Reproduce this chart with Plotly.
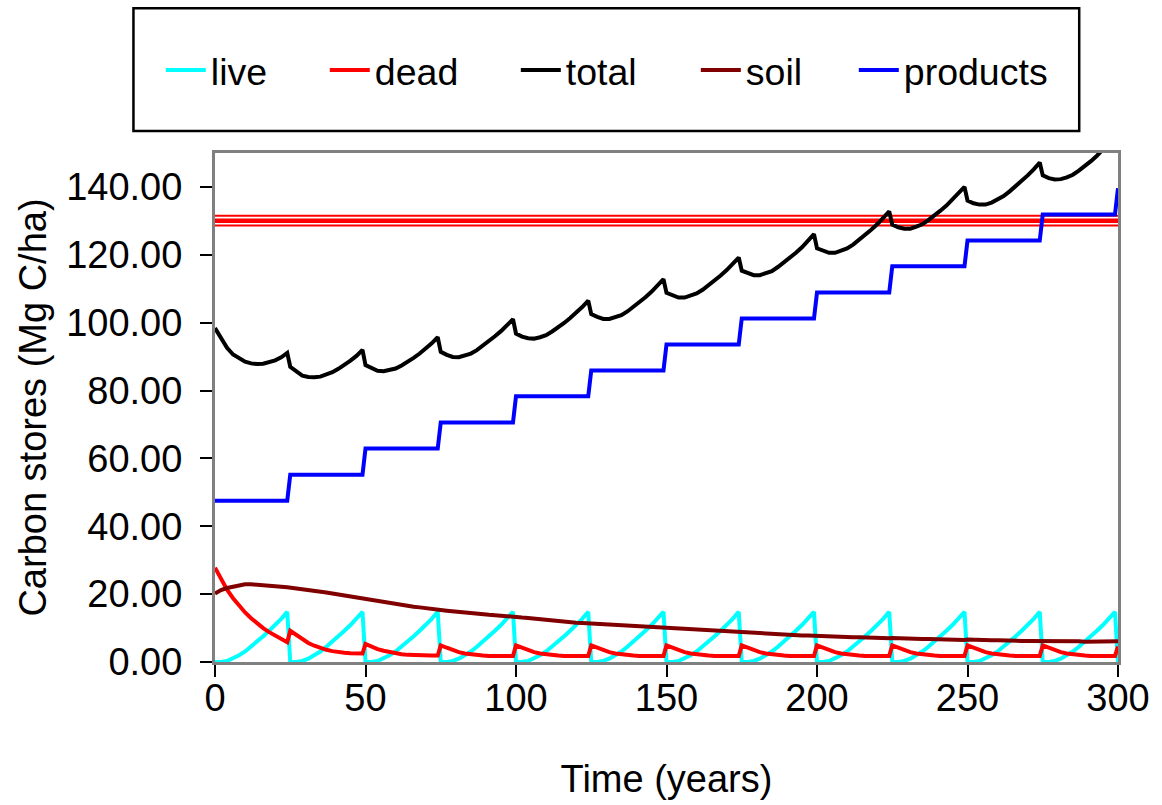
import plotly.graph_objects as go

# Harvest rotation of 25 years; values sampled every 2 years within each rotation
rotation = 25
offsets = list(range(0, rotation, 2))
years = [rotation * k + o for k in range(12) for o in offsets] + [300]

# Carbon stores (Mg C/ha), one row per rotation, then the value at year 300
live_rows = [
    [0.0, 0.0, 0.3, 1.0, 2.0, 3.1, 4.5, 6.0, 7.6, 9.2, 10.9, 12.7, 14.8],
    [0.0, 0.0, 0.3, 1.0, 2.0, 3.1, 4.5, 6.0, 7.6, 9.2, 10.9, 12.7, 14.8],
    [0.0, 0.0, 0.3, 1.0, 2.0, 3.1, 4.5, 6.0, 7.6, 9.2, 10.9, 12.7, 14.8],
    [0.0, 0.0, 0.3, 1.0, 2.0, 3.1, 4.5, 6.0, 7.6, 9.2, 10.9, 12.7, 14.8],
    [0.0, 0.0, 0.3, 1.0, 2.0, 3.1, 4.5, 6.0, 7.6, 9.2, 10.9, 12.7, 14.8],
    [0.0, 0.0, 0.3, 1.0, 2.0, 3.1, 4.5, 6.0, 7.6, 9.2, 10.9, 12.7, 14.8],
    [0.0, 0.0, 0.3, 1.0, 2.0, 3.1, 4.5, 6.0, 7.6, 9.2, 10.9, 12.7, 14.8],
    [0.0, 0.0, 0.3, 1.0, 2.0, 3.1, 4.5, 6.0, 7.6, 9.2, 10.9, 12.7, 14.8],
    [0.0, 0.0, 0.3, 1.0, 2.0, 3.1, 4.5, 6.0, 7.6, 9.2, 10.9, 12.7, 14.8],
    [0.0, 0.0, 0.3, 1.0, 2.0, 3.1, 4.5, 6.0, 7.6, 9.2, 10.9, 12.7, 14.8],
    [0.0, 0.0, 0.3, 1.0, 2.0, 3.1, 4.5, 6.0, 7.6, 9.2, 10.9, 12.7, 14.8],
    [0.0, 0.0, 0.3, 1.0, 2.0, 3.1, 4.5, 6.0, 7.6, 9.2, 10.9, 12.7, 14.8],
]
live_end = 0.0

dead_rows = [
    [27.8, 24.4, 21.3, 18.8, 16.6, 14.6, 12.9, 11.4, 10.0, 8.8, 7.7, 6.7, 5.8],
    [9.2, 7.9, 6.6, 5.6, 4.8, 4.1, 3.6, 3.2, 2.9, 2.7, 2.6, 2.5, 2.5],
    [5.3, 4.5, 3.8, 3.3, 2.9, 2.6, 2.3, 2.1, 2.0, 1.9, 1.9, 1.9, 1.9],
    [4.9, 4.2, 3.5, 2.9, 2.5, 2.2, 2.0, 1.9, 1.8, 1.8, 1.8, 1.8, 1.8],
    [4.9, 4.2, 3.5, 2.9, 2.5, 2.2, 2.0, 1.9, 1.8, 1.8, 1.8, 1.8, 1.8],
    [4.9, 4.2, 3.5, 2.9, 2.5, 2.2, 2.0, 1.9, 1.8, 1.8, 1.8, 1.8, 1.8],
    [4.9, 4.2, 3.5, 2.9, 2.5, 2.2, 2.0, 1.9, 1.8, 1.8, 1.8, 1.8, 1.8],
    [4.9, 4.2, 3.5, 2.9, 2.5, 2.2, 2.0, 1.9, 1.8, 1.8, 1.8, 1.8, 1.8],
    [4.9, 4.2, 3.5, 2.9, 2.5, 2.2, 2.0, 1.9, 1.8, 1.8, 1.8, 1.8, 1.8],
    [4.9, 4.2, 3.5, 2.9, 2.5, 2.2, 2.0, 1.9, 1.8, 1.8, 1.8, 1.8, 1.8],
    [4.9, 4.2, 3.5, 2.9, 2.5, 2.2, 2.0, 1.9, 1.8, 1.8, 1.8, 1.8, 1.8],
    [4.9, 4.2, 3.5, 2.9, 2.5, 2.2, 2.0, 1.9, 1.8, 1.8, 1.8, 1.8, 1.8],
]
dead_end = 4.6

soil_rows = [
    [20.2, 21.2, 21.8, 22.2, 22.7, 22.9, 22.9, 22.8, 22.7, 22.5, 22.4, 22.2, 22.0],
    [21.9, 21.7, 21.5, 21.3, 21.0, 20.8, 20.5, 20.2, 19.9, 19.6, 19.3, 19.0, 18.7],
    [18.5, 18.3, 18.0, 17.7, 17.4, 17.1, 16.9, 16.6, 16.3, 16.1, 15.8, 15.6, 15.4],
    [15.3, 15.1, 14.9, 14.7, 14.5, 14.4, 14.2, 14.1, 13.9, 13.8, 13.6, 13.5, 13.3],
    [13.3, 13.1, 13.0, 12.8, 12.6, 12.4, 12.3, 12.1, 11.9, 11.8, 11.6, 11.5, 11.4],
    [11.3, 11.2, 11.0, 10.9, 10.8, 10.6, 10.5, 10.4, 10.3, 10.2, 10.1, 10.0, 9.9],
    [9.9, 9.8, 9.6, 9.5, 9.4, 9.3, 9.2, 9.1, 9.0, 8.9, 8.8, 8.7, 8.6],
    [8.7, 8.6, 8.5, 8.4, 8.3, 8.2, 8.2, 8.1, 8.0, 7.9, 7.8, 7.8, 7.7],
    [7.8, 7.7, 7.6, 7.5, 7.5, 7.4, 7.3, 7.3, 7.2, 7.2, 7.1, 7.1, 7.0],
    [7.1, 7.0, 7.0, 6.9, 6.9, 6.8, 6.8, 6.7, 6.7, 6.6, 6.6, 6.5, 6.5],
    [6.6, 6.5, 6.5, 6.4, 6.4, 6.4, 6.3, 6.3, 6.3, 6.2, 6.2, 6.2, 6.1],
    [6.3, 6.2, 6.2, 6.2, 6.1, 6.1, 6.1, 6.0, 6.0, 6.0, 6.0, 6.0, 6.0],
]
soil_end = 6.1

# Wood products pool: one level per rotation (steps up at each harvest)
products_levels = [47.5, 55.2, 62.9, 70.6, 78.3, 85.9, 93.6, 101.2,
                   108.9, 116.6, 124.2, 131.9]
products_end = 139.6

total_rows = [
    [98.4, 95.2, 92.6, 90.6, 89.4, 88.5, 88.0, 87.8, 87.9, 88.3, 88.9, 89.8, 91.1],
    [87.0, 85.6, 84.4, 84.0, 83.9, 84.1, 84.6, 85.4, 86.4, 87.5, 88.8, 90.2, 92.0],
    [87.5, 86.5, 85.8, 85.7, 86.0, 86.5, 87.4, 88.4, 89.6, 90.9, 92.3, 93.9, 95.7],
    [91.4, 90.5, 89.9, 89.8, 90.2, 90.9, 91.9, 93.2, 94.5, 96.0, 97.5, 99.2, 101.0],
    [96.8, 95.9, 95.4, 95.3, 95.7, 96.3, 97.4, 98.6, 99.9, 101.4, 102.9, 104.6, 106.5],
    [102.5, 101.7, 101.1, 101.1, 101.6, 102.2, 103.3, 104.6, 106.0, 107.5, 109.1, 110.8, 112.8],
    [108.8, 108.0, 107.4, 107.4, 107.9, 108.6, 109.7, 111.0, 112.4, 113.9, 115.5, 117.2, 119.2],
    [115.3, 114.5, 114.0, 114.0, 114.5, 115.2, 116.4, 117.7, 119.1, 120.6, 122.2, 124.0, 126.1],
    [121.9, 121.1, 120.6, 120.6, 121.2, 121.9, 123.0, 124.4, 125.8, 127.4, 129.0, 130.8, 132.8],
    [128.9, 128.1, 127.7, 127.7, 128.3, 129.0, 130.2, 131.5, 133.0, 134.5, 136.2, 137.9, 140.0],
    [136.0, 135.2, 134.8, 134.8, 135.4, 136.2, 137.3, 138.7, 140.2, 141.7, 143.4, 145.2, 147.2],
    [143.4, 142.6, 142.2, 142.3, 142.8, 143.6, 144.8, 146.1, 147.6, 149.2, 150.9, 152.7, 154.8],
]
total_end = 150.8

# Horizontal reference band (upper, central, lower level)
reference_levels = [131.5, 130.0, 128.6]
reference_widths = [2, 4.5, 2]


def flatten(rows, end):
    return [v for row in rows for v in row] + [end]


live = flatten(live_rows, live_end)
dead = flatten(dead_rows, dead_end)
soil = flatten(soil_rows, soil_end)
total = flatten(total_rows, total_end)
products = [lvl for lvl in products_levels for _ in offsets] + [products_end]

FONT = "Liberation Sans, Arial, Helvetica, sans-serif"

fig = go.Figure()

for level, w in zip(reference_levels, reference_widths):
    fig.add_trace(go.Scatter(x=[0, 300], y=[level, level], mode="lines",
                             line=dict(color="#ff0000", width=w),
                             showlegend=False, hoverinfo="skip"))

# name, values, colour, width of the legend entry's text slot (px)
series = [
    ("live", live, "#00ffff", 109),
    ("dead", dead, "#ff0000", 136),
    ("total", total, "#000000", 125),
    ("soil", soil, "#800000", 103),
    ("products", products, "#0000ff", 150),
]
for name, vals, color, lw in series:
    fig.add_trace(go.Scatter(x=years, y=vals, mode="lines", name=name,
                             legendwidth=lw,
                             line=dict(color=color, width=4)))

W, H = 1162, 805
ml, mr, mt, mb = 215, 39, 153, 142
pw, ph = W - ml - mr, H - mt - mb


def px_x(p):
    return (p - ml) / pw


def px_y(p):
    return (H - mb - p) / ph


# Frame around the legend
fig.add_shape(type="rect", xref="paper", yref="paper",
              x0=px_x(133), x1=px_x(1084), y0=px_y(131), y1=px_y(8),
              line=dict(color="#000000", width=2.5), fillcolor="rgba(0,0,0,0)")

fig.update_layout(
    width=W, height=H,
    margin=dict(l=ml, r=mr, t=mt, b=mb, pad=0),
    paper_bgcolor="white", plot_bgcolor="white",
    font=dict(family=FONT, color="#000000", size=38),
    showlegend=True,
    legend=dict(orientation="h", x=px_x(612), xanchor="center",
                y=px_y(70), yanchor="middle",
                font=dict(family=FONT, size=37.5, color="#000000"),
                bgcolor="rgba(0,0,0,0)", borderwidth=0,
                itemwidth=40, tracegroupgap=0),
    xaxis=dict(range=[0, 300], tickvals=[0, 50, 100, 150, 200, 250, 300],
               ticks="outside", ticklen=12, tickwidth=1.5, tickcolor="#000000",
               ticklabelstandoff=-12,
               showline=True, linecolor="#808080", linewidth=3, mirror=True,
               showgrid=False, zeroline=False,
               tickfont=dict(family=FONT, size=38),
               title=dict(text="Time (years)", font=dict(family=FONT, size=38),
                          standoff=48)),
    yaxis=dict(range=[0, 150], tickvals=[0, 20, 40, 60, 80, 100, 120, 140],
               tickformat=".2f",
               ticks="outside", ticklen=12, tickwidth=1.5, tickcolor="#000000",
               ticklabelstandoff=10,
               showline=True, linecolor="#808080", linewidth=3, mirror=True,
               showgrid=False, zeroline=False,
               tickfont=dict(family=FONT, size=38),
               title=dict(text="Carbon stores (Mg C/ha)",
                          font=dict(family=FONT, size=38), standoff=8)),
)

fig.write_html("out.html")
